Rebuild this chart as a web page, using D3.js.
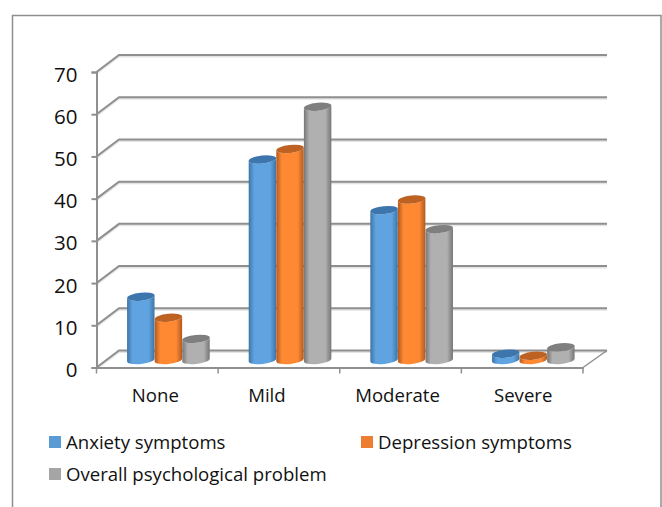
<!DOCTYPE html>
<html>
<head>
<meta charset="utf-8">
<script src="https://cdn.jsdelivr.net/npm/d3@7"></script>
<style>
  html, body { margin: 0; padding: 0; background: #fff; }
  text { font-family: "Open Sans", sans-serif; fill: #111; }
</style>
</head>
<body>
<div id="container"></div>
<script>
const categories = ["None", "Mild", "Moderate", "Severe"];
const seriesNames = ["Anxiety symptoms", "Depression symptoms", "Overall psychological problem"];
const anxiety = [15, 47.5, 35.5, 1.5];
const depression = [10, 50, 38, 1];
const overall = [5, 60, 31, 3];
const yTicks = [0, 10, 20, 30, 40, 50, 60, 70];

const width = 662;
const height = 507;
const depthX = 22.5;
const depthY = -17;
const barWidth = 27.6;
const tilt = -6;
const ry = 4;
// the labels are not quite centred on their bands in the original
const labelShift = [-2, -12, -3, 1];

const colors = [
  { side: "#3f74a6", mid: "#5fa3e0", top: "#3c76ad", legend: "#5b9bd5" },
  { side: "#b05a20", mid: "#ff8833", top: "#bd6222", legend: "#ed7d31" },
  { side: "#767676", mid: "#b0b0b0", top: "#7f7f7f", legend: "#a5a5a5" }
];

const svg = d3.select("#container").append("svg").attr("width", width).attr("height", height);

const x = d3.scaleBand().domain(categories).range([96.5, 583]);
const y = d3.scaleLinear().domain([0, 70]).range([367.5, 72]);
const backRight = x.range()[1] + 24;

// outer frame, open at the bottom
svg.append("path")
  .attr("d", `M12.5,507 V15.5 H661 V507`)
  .attr("fill", "none").attr("stroke", "#8e8e8e").attr("stroke-width", 1.5);

// gradients for the cylinders
const defs = svg.append("defs");
colors.forEach((c, i) => {
  const g = defs.append("linearGradient").attr("id", "cyl" + i);
  g.append("stop").attr("offset", "0%").attr("stop-color", c.side);
  g.append("stop").attr("offset", "20%").attr("stop-color", c.mid);
  g.append("stop").attr("offset", "78%").attr("stop-color", c.mid);
  g.append("stop").attr("offset", "100%").attr("stop-color", c.side);
});

// back wall grid lines, with the slanted piece on the left
const grid = svg.append("g");
yTicks.forEach(t => {
  grid.append("path")
    .attr("d", `M${x.range()[0]},${y(t)} l${depthX},${depthY} H${backRight}`)
    .attr("fill", "none").attr("stroke", "#e4e4e4").attr("stroke-width", 2).attr("transform", "translate(0,1.5)");
  grid.append("path")
    .attr("d", `M${x.range()[0]},${y(t)} l${depthX},${depthY} H${backRight}`)
    .attr("fill", "none").attr("stroke", "#8f8f8f").attr("stroke-width", 2);
});

// floor right edge
svg.append("path")
  .attr("d", `M${x.range()[1]},${y(0)} L${backRight},${y(0) + depthY}`)
  .attr("fill", "none").attr("stroke", "#8f8f8f").attr("stroke-width", 1.5);

// axes
const yAxis = svg.append("g").attr("transform", "translate(96.5,0)")
  .call(d3.axisLeft(y).tickValues(yTicks).tickSize(5).tickPadding(14).tickFormat(d3.format("d")));
const xAxis = svg.append("g").attr("transform", `translate(0,${y(0)})`)
  .call(d3.axisBottom(x).tickValues([]).tickSizeOuter(0));
[yAxis, xAxis].forEach(a => {
  a.selectAll("path,line").attr("stroke", "#8f8f8f").attr("stroke-width", 2);
});
yAxis.selectAll("text").attr("font-size", 20.5).attr("font-family", "Open Sans").attr("fill", "#111").attr("dy", "0.44em");
xAxis.select("path").attr("stroke-width", 2);

// category ticks and labels (ticks sit on the band edges)
categories.concat([null]).forEach((c, i) => {
  const px = x.range()[0] + i * x.bandwidth();
  svg.append("line").attr("x1", px).attr("x2", px).attr("y1", y(0)).attr("y2", y(0) + 6)
    .attr("stroke", "#8f8f8f").attr("stroke-width", 1.5);
  if (c) {
    svg.append("text").attr("x", x(c) + x.bandwidth() / 2 + labelShift[i]).attr("y", 402)
      .attr("text-anchor", "middle").attr("font-size", 18.6).text(c);
  }
});

// cylinders
const allSeries = [anxiety, depression, overall];
const inner = d3.scaleBand().domain(d3.range(3)).range([30.5, 30.5 + barWidth * 3]);
const floorY = y(0) + depthY / 2 + 1;
const scaleH = v => y(0) - y(v);

function cylinder(cx, topY, botY) {
  const a = tilt * Math.PI / 180;
  const rx = barWidth / 2;
  const ex = rx * Math.cos(a), ey = rx * Math.sin(a);
  return `M${cx - ex},${topY - ey} L${cx - ex},${botY - ey} A${rx},${ry} ${tilt} 0 0 ${cx + ex},${botY + ey} L${cx + ex},${topY + ey} A${rx},${ry} ${tilt} 0 1 ${cx - ex},${topY - ey} Z`;
}

allSeries.forEach((values, s) => {
  const g = svg.append("g");
  values.forEach((v, i) => {
    const cx = x(categories[i]) + inner(s) + barWidth / 2;
    const topY = floorY - scaleH(v);
    g.append("path").attr("d", cylinder(cx, topY, floorY)).attr("fill", `url(#cyl${s})`);
    g.append("ellipse").attr("cx", cx).attr("cy", topY)
      .attr("rx", barWidth / 2).attr("ry", ry)
      .attr("transform", `rotate(${tilt} ${cx} ${topY})`)
      .attr("fill", colors[s].top);
  });
});

// legend
const legendPos = [[49, 436], [361, 436], [49, 468]];
seriesNames.forEach((name, i) => {
  const [lx, ly] = legendPos[i];
  svg.append("rect").attr("x", lx).attr("y", ly).attr("width", 12).attr("height", 12).attr("fill", colors[i].legend);
  svg.append("text").attr("x", lx + 17).attr("y", ly + 13).attr("font-size", 18.6).text(name);
});
</script>
</body>
</html>
